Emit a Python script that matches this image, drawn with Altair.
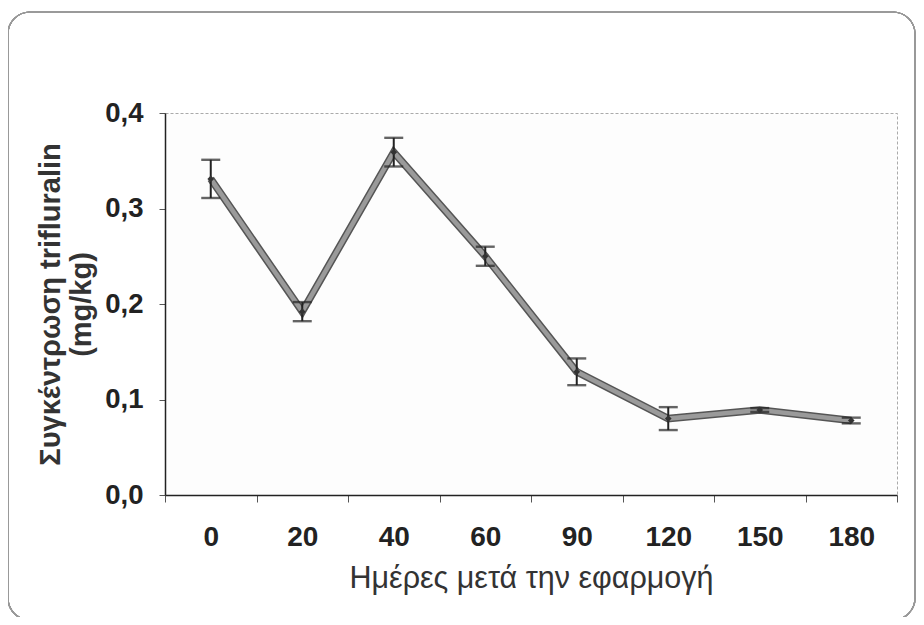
import altair as alt
import pandas as pd

days = ["0", "20", "40", "60", "90", "120", "150", "180"]
conc = [0.331, 0.192, 0.359, 0.250, 0.129, 0.080, 0.089, 0.078]
err = [0.020, 0.010, 0.015, 0.010, 0.014, 0.012, 0.002, 0.003]

df = pd.DataFrame({"day": days, "c": conc, "e": err})
df["lo"] = df["c"] - df["e"]
df["hi"] = df["c"] + df["e"]

FONT = "Liberation Sans"

x_scale = alt.Scale(type="band", paddingInner=0, paddingOuter=0)
x_axis = alt.Axis(
    title="Ημέρες μετά την εφαρμογή",
    labelAngle=0,
    tickBand="extent",
    tickSize=7,
    tickColor="#555",
    domainColor="#222",
    domainWidth=1.5,
    labelFontSize=28,
    labelFontWeight="bold",
    labelFont=FONT,
    labelColor="#222",
    labelPadding=21,
    titleFontSize=30.5,
    titleFont=FONT,
    titleFontWeight="normal",
    titleColor="#333",
    titlePadding=12,
    grid=False,
)


def X(show_axis=False):
    if show_axis:
        return alt.X("day:O", sort=days, scale=x_scale, axis=x_axis)
    return alt.X("day:O", sort=days)


y_scale = alt.Scale(domain=[0, 0.4], nice=False)
y_axis = alt.Axis(
    title=["Συγκέντρωση trifluralin", "(mg/kg)"],
    values=[0, 0.1, 0.2, 0.3, 0.4],
    labelExpr="replace(format(datum.value, '.1f'), '.', ',')",
    tickSize=6,
    tickColor="#555",
    domainColor="#222",
    domainWidth=1.5,
    labelFontSize=27.5,
    labelFontWeight="bold",
    labelFont=FONT,
    labelColor="#222",
    labelPadding=16,
    titleFontSize=29,
    titleFont=FONT,
    titleFontWeight="bold",
    titleColor="#333",
    titlePadding=8,
    titleLineHeight=31,
    grid=False,
)

base = alt.Chart(df)

frame = base.mark_rect(
    fill=None, stroke="#999", strokeWidth=1.2, cornerRadius=22
).encode(
    x=alt.value(-157), x2=alt.value(750), y=alt.value(-101), y2=alt.value(507)
)

line_outer = base.mark_line(color="#555", strokeWidth=7.5).encode(
    x=X(True), y=alt.Y("c:Q", scale=y_scale, axis=y_axis)
)
line_inner = base.mark_line(color="#9a9a9a", strokeWidth=4.5).encode(
    x=X(), y="c:Q"
)
rules = base.mark_rule(color="#222", strokeWidth=2).encode(
    x=X(), y="lo:Q", y2="hi:Q"
)
cap_lo = base.mark_tick(color="#222", thickness=2.4, size=19).encode(
    x=X(), y="lo:Q"
)
cap_hi = base.mark_tick(color="#222", thickness=2.4, size=19).encode(
    x=X(), y="hi:Q"
)
pts = base.mark_point(
    shape="diamond", filled=True, color="#333", size=45, opacity=1
).encode(x=X(), y="c:Q")

chart = (
    alt.layer(frame, line_outer, line_inner, rules, cap_lo, cap_hi, pts)
    .properties(
        width=732,
        height=382,
        autosize=alt.AutoSizeParams(type="none"),
        padding={"left": 157, "top": 105, "right": 19, "bottom": 122},
        background="white",
    )
    .configure_view(stroke="#aaa", strokeDash=[3, 2], strokeWidth=1, fill="#fdfdfd")
)

chart.save("out.html", embed_options={"renderer": "svg", "actions": False})
